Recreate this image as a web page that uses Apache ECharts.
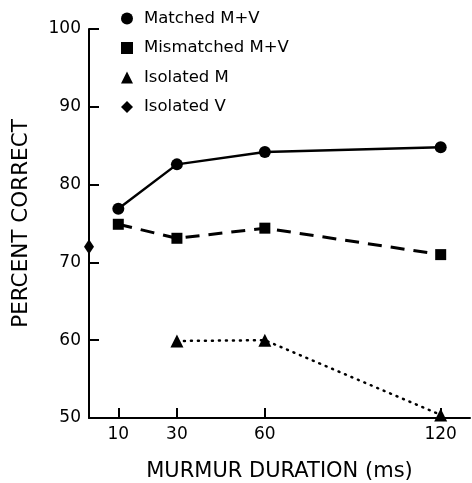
<!DOCTYPE html>
<html>
<head>
<meta charset="utf-8">
<script src="https://cdn.jsdelivr.net/npm/echarts@6/dist/echarts.min.js"></script>
<style>
  html, body { margin: 0; padding: 0; background: #fff; }
  #main { width: 472px; height: 483px; }
</style>
</head>
<body>
<div id="main"></div>
<script>
// murmur duration (ms) and percent correct
var durations = [10, 30, 60, 120];
var matched = [76.9, 82.6, 84.2, 84.8];
var mismatched = [74.9, 73.1, 74.4, 71.0];
var isoMDur = [30, 60, 120];
var isolatedM = [59.9, 60.0, 50.4];
var isoVDur = [0];
var isolatedV = [72.0];
var xTicks = [10, 30, 60, 120];
var seriesNames = ['Matched M+V', 'Mismatched M+V', 'Isolated M', 'Isolated V'];

function pairs(xs, ys) {
  var res = [];
  for (var i = 0; i < xs.length; i++) {
    res.push([xs[i], ys[i]]);
  }
  return res;
}

var font = 'DejaVu Sans';
var chart = echarts.init(document.getElementById('main'));

chart.setOption({
  animation: false,
  backgroundColor: '#fff',
  grid: { left: 89, right: 2, top: 29, bottom: 65, containLabel: false, outerBoundsMode: 'none' },
  legend: {
    orient: 'vertical',
    left: 116,
    top: 5,
    itemWidth: 12,
    itemHeight: 12,
    itemGap: 12.5,
    textStyle: { color: '#000', fontFamily: font, fontSize: 16.5, padding: [0, 0, 0, 6] },
    data: [
      { name: seriesNames[0], icon: 'circle' },
      { name: seriesNames[1], icon: 'rect' },
      { name: seriesNames[2], icon: 'triangle' },
      { name: seriesNames[3], icon: 'diamond', itemStyle: { opacity: 1 } }
    ]
  },
  xAxis: {
    type: 'value',
    min: 0,
    max: 130,
    name: 'MURMUR DURATION (ms)',
    nameLocation: 'middle',
    nameGap: 43,
    nameTextStyle: { color: '#000', fontFamily: font, fontSize: 21 },
    axisLine: { show: true, lineStyle: { color: '#000', width: 2 } },
    axisTick: { show: true, inside: true, length: 10, customValues: xTicks, lineStyle: { color: '#000', width: 2 } },
    axisLabel: { color: '#000', fontFamily: font, fontSize: 17, margin: 8, customValues: xTicks },
    splitLine: { show: false }
  },
  yAxis: {
    type: 'value',
    min: 50,
    max: 100,
    interval: 10,
    name: 'PERCENT CORRECT',
    nameLocation: 'middle',
    nameGap: 57,
    nameTextStyle: { color: '#000', fontFamily: font, fontSize: 21.5 },
    axisLine: { show: true, lineStyle: { color: '#000', width: 2 } },
    axisTick: { show: true, inside: true, length: 10, lineStyle: { color: '#000', width: 2 } },
    axisLabel: { color: '#000', fontFamily: font, fontSize: 17, margin: 8 },
    splitLine: { show: false }
  },
  series: [
    {
      name: seriesNames[0],
      type: 'line',
      data: pairs(durations, matched),
      symbol: 'circle',
      symbolSize: 12,
      clip: false,
      itemStyle: { color: '#000' },
      lineStyle: { color: '#000', width: 2.5 }
    },
    {
      name: seriesNames[1],
      type: 'line',
      data: pairs(durations, mismatched),
      symbol: 'rect',
      symbolSize: 11,
      clip: false,
      itemStyle: { color: '#000' },
      lineStyle: { color: '#000', width: 3, type: [14, 9] }
    },
    {
      name: seriesNames[2],
      type: 'line',
      data: pairs(isoMDur, isolatedM),
      symbol: 'triangle',
      symbolSize: 13,
      clip: false,
      itemStyle: { color: '#000' },
      lineStyle: { color: '#000', width: 2.5, type: [1, 6], cap: 'round' }
    },
    {
      name: seriesNames[3],
      type: 'scatter',
      data: pairs(isoVDur, isolatedV),
      symbol: 'diamond',
      symbolSize: [10, 15],
      clip: false,
      z: 5,
      itemStyle: { color: '#000', opacity: 1 }
    }
  ]
});
</script>
</body>
</html>
